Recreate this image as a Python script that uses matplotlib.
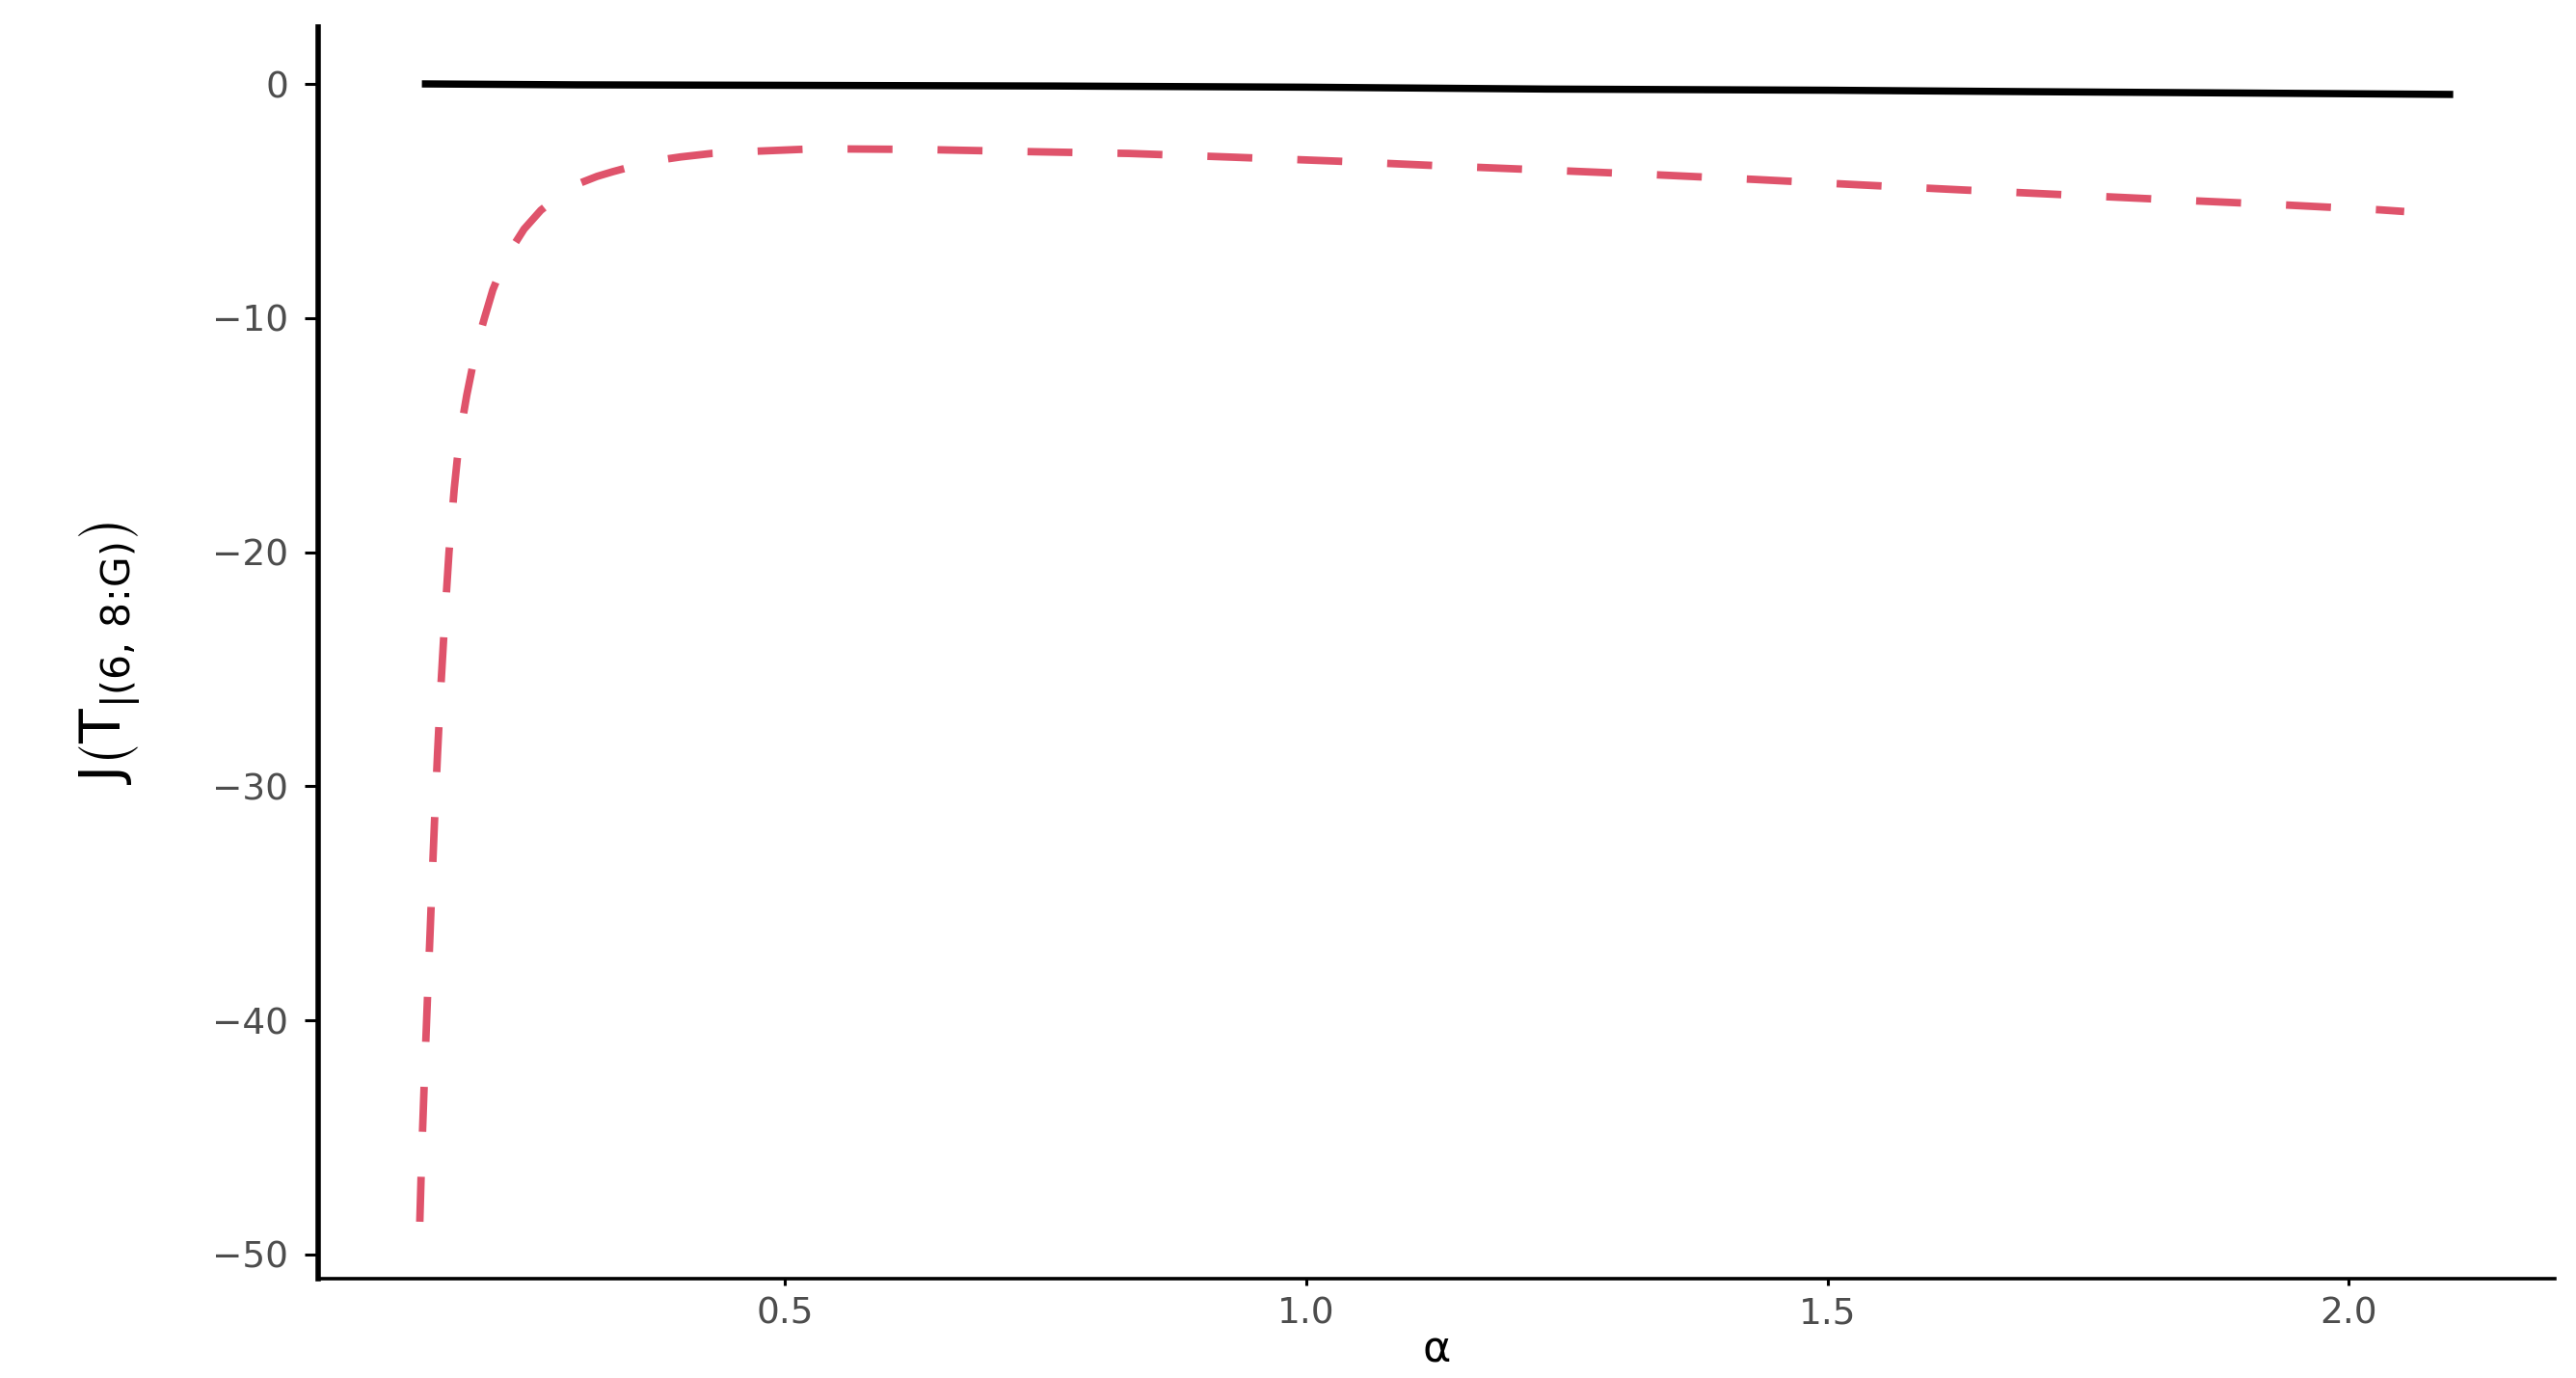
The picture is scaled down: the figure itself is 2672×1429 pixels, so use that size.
import numpy as np
import matplotlib
matplotlib.use('Agg')

import matplotlib.pyplot as plt

matplotlib.rcParams['font.family'] = 'DejaVu Sans'
matplotlib.rcParams['mathtext.default'] = 'regular'

# values
alpha_red = [0.150, 0.152, 0.154, 0.156, 0.158, 0.160, 0.162, 0.164, 0.167, 0.170,
             0.174, 0.178, 0.183, 0.186, 0.190, 0.195, 0.200, 0.205, 0.212, 0.220,
             0.230, 0.240, 0.250, 0.258, 0.266, 0.280, 0.300, 0.320, 0.335, 0.360,
             0.380, 0.400, 0.43, 0.47, 0.53, 0.63, 0.73, 0.83, 0.93, 1.03,
             1.13, 1.24, 1.33, 1.43, 1.53, 1.63, 1.73, 1.83, 1.93, 2.03, 2.053]
j_red = [-48.6, -45.5, -43.0, -40.6, -38.3, -36.1, -33.8, -31.6, -28.6, -25.9,
         -22.8, -20.0, -17.3, -16.0, -14.6, -13.3, -12.2, -11.1, -10.0, -8.8,
         -7.7, -6.9, -6.2, -5.8, -5.4, -4.9, -4.3, -3.95, -3.75, -3.45,
         -3.25, -3.12, -2.97, -2.88, -2.77, -2.80, -2.89, -2.97, -3.13, -3.30,
         -3.50, -3.70, -3.87, -4.08, -4.31, -4.53, -4.74, -4.95, -5.15, -5.38, -5.45]

alpha_black = [0.152, 0.30, 0.50, 0.76, 1.00, 1.23, 1.50, 1.69, 1.90, 2.10]
j_black = [0.0, -0.04, -0.06, -0.09, -0.14, -0.22, -0.27, -0.33, -0.39, -0.45]

y_ticks = [0, -10, -20, -30, -40, -50]
x_ticks = [0.5, 1.0, 1.5, 2.0]

RED = '#DF536B'
TICK_GREY = '#4D4D4D'

fig = plt.figure(figsize=(13.36, 7.145), dpi=200)
ax = fig.add_axes([0.1235, 0.0721, 0.8683, 0.9083])

ax.plot(alpha_black, j_black, color='black', lw=2.7, solid_capstyle='butt')
ax.plot(alpha_red, j_red, color=RED, lw=2.8, dashes=(6, 6), dash_capstyle='butt')

ax.margins(x=0.05, y=0.05)

ax.set_xticks(x_ticks)
ax.set_yticks(y_ticks)

for side in ['top', 'right']:
    ax.spines[side].set_visible(False)
ax.spines['left'].set_linewidth(2.0)
ax.spines['bottom'].set_linewidth(1.3)

ax.tick_params(axis='y', length=5, width=1.1, pad=6, labelsize=13.5, labelcolor=TICK_GREY, color='black')
ax.tick_params(axis='x', length=2.5, width=1.1, pad=4, labelsize=13.5, labelcolor=TICK_GREY, color='black')

ax.set_xlabel(r'$\alpha$', fontsize=16, labelpad=-1)
ax.set_ylabel(r'$J\left(T_{|(6,\,8\!:\!G)}\right)$', fontsize=21, labelpad=26)

plt.savefig('out.png', dpi=200, facecolor='white')
